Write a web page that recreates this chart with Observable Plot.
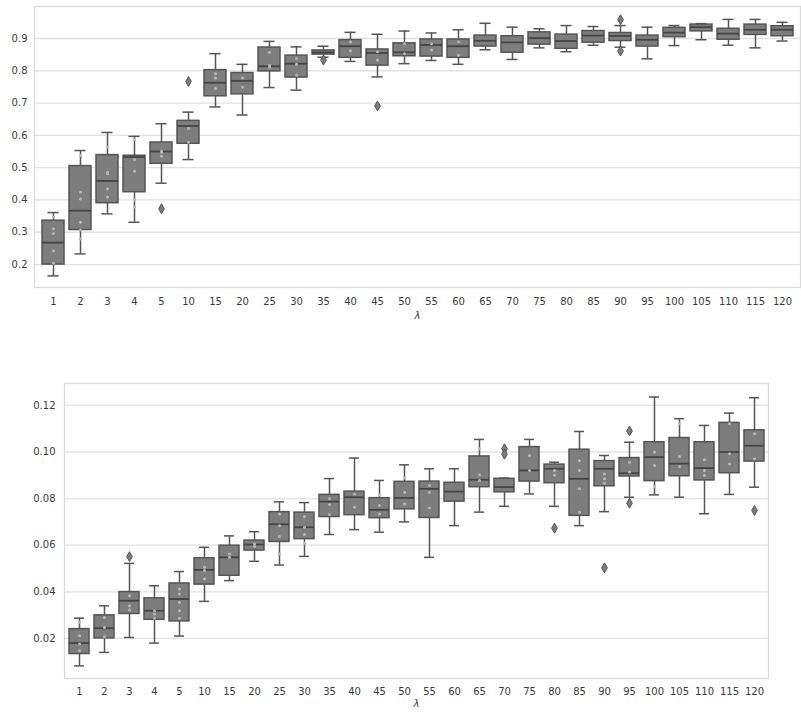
<!DOCTYPE html>
<html>
<head>
<meta charset="utf-8">
<script src="https://cdn.jsdelivr.net/npm/d3@7"></script>
<script src="https://cdn.jsdelivr.net/npm/@observablehq/plot@0.6"></script>
<style>
  html, body { margin: 0; padding: 0; background: #fff; }
  #wrap { position: relative; width: 801px; height: 714px; overflow: hidden; }
  #top { position: absolute; left: 0; top: 0; }
  #bottom { position: absolute; left: 0; top: 330px; }
  svg { font-family: "DejaVu Sans", sans-serif; }
  g[aria-label="x-axis label"] text { font-style: italic; }
</style>
</head>
<body>
<div id="wrap"><div id="top"></div><div id="bottom"></div></div>
<script>
const lambdas = ["1","2","3","4","5","10","15","20","25","30","35","40","45","50","55","60","65","70","75","80","85","90","95","100","105","110","115","120"];

// Top panel: box statistics per λ
const topLow  = [0.165,0.233,0.357,0.331,0.452,0.525,0.688,0.663,0.748,0.740,0.842,0.829,0.781,0.822,0.832,0.820,0.865,0.835,0.871,0.859,0.879,0.873,0.837,0.878,0.896,0.879,0.871,0.892];
const topQ1   = [0.200,0.307,0.390,0.424,0.512,0.574,0.721,0.727,0.798,0.779,0.850,0.840,0.816,0.845,0.844,0.840,0.875,0.856,0.881,0.868,0.887,0.892,0.875,0.904,0.922,0.896,0.911,0.907];
const topMed  = [0.268,0.367,0.459,0.533,0.550,0.629,0.763,0.769,0.814,0.822,0.857,0.876,0.855,0.857,0.880,0.876,0.893,0.888,0.901,0.892,0.909,0.908,0.896,0.918,0.935,0.915,0.927,0.927];
const topQ3   = [0.336,0.505,0.539,0.537,0.578,0.645,0.802,0.793,0.872,0.847,0.863,0.895,0.866,0.885,0.897,0.897,0.909,0.907,0.919,0.912,0.923,0.917,0.909,0.933,0.943,0.930,0.943,0.938];
const topHigh = [0.361,0.553,0.609,0.597,0.636,0.672,0.853,0.820,0.891,0.874,0.876,0.919,0.913,0.923,0.917,0.927,0.947,0.935,0.930,0.940,0.937,0.940,0.935,0.940,0.946,0.959,0.959,0.950];
const topOutCat = ["5","10","35","45","90","90"];
const topOutVal = [0.373,0.767,0.833,0.691,0.958,0.861];
const topDotCat = ["1","1","1","1","1","2","2","2","2","2","2","3","3","3","3","3","4","4","4","4","4","5","5","5","10","10","15","15","15","20","20","25","25","25","30","30","30","40","40","45","45","50","50","55","55","60","60"];
const topDotVal = [0.347,0.311,0.296,0.243,0.204,0.538,0.424,0.403,0.331,0.307,0.279,0.564,0.486,0.481,0.435,0.409,0.587,0.525,0.489,0.400,0.378,0.551,0.548,0.535,0.621,0.579,0.791,0.778,0.745,0.778,0.750,0.857,0.817,0.812,0.838,0.820,0.786,0.890,0.862,0.859,0.833,0.884,0.853,0.884,0.864,0.890,0.848];
const topTicks = [0.2,0.3,0.4,0.5,0.6,0.7,0.8,0.9];

// Bottom panel: box statistics per λ
const botLow  = [0.0082,0.0140,0.0204,0.0180,0.0210,0.0359,0.0448,0.0531,0.0515,0.0552,0.0646,0.0667,0.0656,0.0700,0.0548,0.0684,0.0742,0.0767,0.0820,0.0767,0.0684,0.0744,0.0806,0.0816,0.0806,0.0735,0.0818,0.0849];
const botQ1   = [0.0133,0.0200,0.0305,0.0280,0.0273,0.0431,0.0469,0.0577,0.0614,0.0626,0.0721,0.0729,0.0716,0.0754,0.0717,0.0787,0.0849,0.0827,0.0873,0.0866,0.0726,0.0853,0.0895,0.0875,0.0896,0.0878,0.0909,0.0959];
const botMed  = [0.0180,0.0244,0.0362,0.0319,0.0369,0.0494,0.0548,0.0603,0.0690,0.0677,0.0787,0.0806,0.0752,0.0803,0.0842,0.0830,0.0881,0.0849,0.0921,0.0928,0.0885,0.0928,0.0909,0.0978,0.0950,0.0931,0.1000,0.1027];
const botQ3   = [0.0240,0.0299,0.0399,0.0372,0.0436,0.0544,0.0598,0.0620,0.0742,0.0740,0.0816,0.0830,0.0802,0.0872,0.0873,0.0868,0.0981,0.0885,0.1021,0.0946,0.1010,0.0961,0.0974,0.1042,0.1060,0.1042,0.1125,0.1093];
const botHigh = [0.0287,0.0340,0.0522,0.0426,0.0487,0.0591,0.0640,0.0658,0.0786,0.0783,0.0886,0.0974,0.0878,0.0945,0.0928,0.0928,0.1054,0.0888,0.1054,0.0956,0.1088,0.0985,0.1042,0.1236,0.1143,0.1114,0.1167,0.1233];
const botOutCat = ["3","70","70","80","90","95","95","120"];
const botOutVal = [0.0551,0.1014,0.0990,0.0673,0.0503,0.1090,0.0780,0.0749];
const botDotCat = ["1","1","1","1","2","2","2","3","3","3","4","4","4","5","5","5","5","5","10","10","10","15","15","20","20","25","25","25","25","30","30","30","30","35","35","35","40","40","45","45","45","50","50","50","55","55","55","65","65","65","75","75","80","80","85","85","85","85","90","90","90","95","95","100","100","100","105","105","105","110","110","110","115","115","115","120","120"];
const botDotVal = [0.0269,0.0211,0.0176,0.0147,0.0290,0.0247,0.0207,0.0383,0.0340,0.0322,0.0319,0.0305,0.0287,0.0412,0.0391,0.0355,0.0319,0.0287,0.0505,0.0491,0.0455,0.0562,0.0548,0.0605,0.0594,0.0734,0.0684,0.0637,0.0562,0.0723,0.0677,0.0646,0.0608,0.0799,0.0775,0.0732,0.0820,0.0763,0.0816,0.0770,0.0734,0.0889,0.0827,0.0777,0.0856,0.0827,0.0760,0.1014,0.0902,0.0878,0.0985,0.0921,0.0921,0.0900,0.0964,0.0921,0.0842,0.0742,0.0906,0.0885,0.0866,0.0956,0.0914,0.1000,0.0942,0.0852,0.1121,0.0981,0.0938,0.0967,0.0921,0.0899,0.1121,0.0993,0.0949,0.1078,0.0971];
const botTicks = [0.02,0.04,0.06,0.08,0.10,0.12];

const FILL = "#7d7d7d", EDGE = "#555555", GRID = "#e2e2e2", FRAME = "#dadada", TEXT = "#3a3a3a", DOT = "#b8b8b8";

function boxPanel({low, q1, med, q3, high, outCat, outVal, dotCat, dotVal, ticks, fmt, domain, width, height, margins, xPad, yPad, labelOffset}) {
  const rows = lambdas.map((c, i) => ({cat: c, lo: low[i], q1: q1[i], med: med[i], q3: q3[i], hi: high[i]}));
  const outs = outCat.map((c, i) => ({cat: c, v: outVal[i]}));
  const dots = dotCat.map((c, i) => ({cat: c, v: dotVal[i]}));
  const plotW = width - margins.left - margins.right;
  const bw = plotW / lambdas.length * 0.8;
  const capInset = bw / 4;
  return Plot.plot({
    width, height,
    marginLeft: margins.left, marginRight: margins.right, marginTop: margins.top, marginBottom: margins.bottom,
    style: {fontFamily: "DejaVu Sans, sans-serif", fontSize: "10px", color: TEXT, background: "#fff"},
    x: {type: "band", domain: lambdas, paddingInner: 0.2, paddingOuter: 0.1},
    y: {domain},
    marks: [
      Plot.gridY(ticks, {stroke: GRID, strokeOpacity: 1, strokeWidth: 1.3}),
      Plot.frame({stroke: FRAME, strokeWidth: 1.3}),
      Plot.ruleX(rows, {x: "cat", y1: "lo", y2: "q1", stroke: EDGE, strokeWidth: 1.5}),
      Plot.ruleX(rows, {x: "cat", y1: "q3", y2: "hi", stroke: EDGE, strokeWidth: 1.5}),
      Plot.tickY(rows, {x: "cat", y: "lo", stroke: EDGE, strokeWidth: 1.5, insetLeft: capInset, insetRight: capInset}),
      Plot.tickY(rows, {x: "cat", y: "hi", stroke: EDGE, strokeWidth: 1.5, insetLeft: capInset, insetRight: capInset}),
      Plot.barY(rows, {x: "cat", y1: "q1", y2: "q3", fill: FILL, stroke: EDGE, strokeWidth: 1.5}),
      Plot.tickY(rows, {x: "cat", y: "med", stroke: "#444", strokeWidth: 1.8}),
      Plot.dot(dots, {x: "cat", y: "v", r: 1.5, fill: DOT, stroke: "none"}),
      Plot.dot(outs, {x: "cat", y: "v", symbol: "diamond", r: 3, fill: FILL, stroke: EDGE, strokeWidth: 1}),
      Plot.axisY({ticks, tickSize: 0, tickPadding: yPad, tickFormat: d3.format(fmt), label: null, fill: TEXT}),
      Plot.axisX({tickSize: 0, tickPadding: xPad, label: "λ", labelAnchor: "center", labelOffset, fill: TEXT})
    ]
  });
}

document.getElementById("top").append(boxPanel({
  low: topLow, q1: topQ1, med: topMed, q3: topQ3, high: topHigh, outCat: topOutCat, outVal: topOutVal,
  dotCat: topDotCat, dotVal: topDotVal,
  ticks: topTicks, fmt: ".1f", domain: [0.129, 0.999], width: 801, height: 330,
  margins: {left: 34, right: 1, top: 6, bottom: 43}, xPad: 10, yPad: 7, labelOffset: 31
}));

document.getElementById("bottom").append(boxPanel({
  low: botLow, q1: botQ1, med: botMed, q3: botQ3, high: botHigh, outCat: botOutCat, outVal: botOutVal,
  dotCat: botDotCat, dotVal: botDotVal,
  ticks: botTicks, fmt: ".2f", domain: [0.0028, 0.1294], width: 801, height: 384,
  margins: {left: 64, right: 33, top: 53, bottom: 36}, xPad: 9, yPad: 9, labelOffset: 28
}));
</script>
</body>
</html>
